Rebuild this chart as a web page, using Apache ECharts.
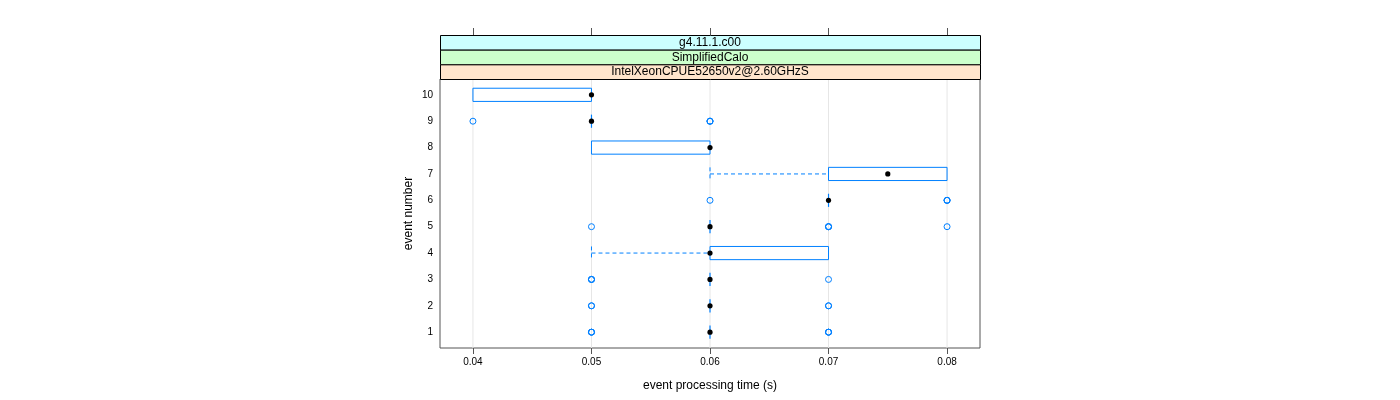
<!DOCTYPE html>
<html><head><meta charset="utf-8">
<script src="https://cdn.jsdelivr.net/npm/echarts@6/dist/echarts.min.js"></script>
<style>html,body{margin:0;padding:0;background:#fff}#c{width:1400px;height:400px}</style>
</head><body><div id="c"></div>
<script>
// ---- data ----
const events = [1, 2, 3, 4, 5, 6, 7, 8, 9, 10];
const xTicks = [0.04, 0.05, 0.06, 0.07, 0.08];
const boxMin    = [0.06, 0.06, 0.06, 0.05, 0.06, 0.07, 0.06,  0.05, 0.05, 0.04];
const boxQ1     = [0.06, 0.06, 0.06, 0.06, 0.06, 0.07, 0.07,  0.05, 0.05, 0.04];
const boxMedian = [0.06, 0.06, 0.06, 0.06, 0.06, 0.07, 0.075, 0.06, 0.05, 0.05];
const boxQ3     = [0.06, 0.06, 0.06, 0.07, 0.06, 0.07, 0.08,  0.06, 0.05, 0.05];
const boxMax    = [0.06, 0.06, 0.06, 0.07, 0.06, 0.07, 0.08,  0.06, 0.05, 0.05];
// outliers (repeated values = overlapping points)
const outlierEvent = [1, 1, 1, 1, 1, 1, 2, 2, 2, 2, 3, 3, 3, 3, 5, 5, 5, 5, 5, 6, 6, 6, 6, 9, 9, 9, 9];
const outlierTime  = [0.05, 0.05, 0.05, 0.07, 0.07, 0.07, 0.05, 0.05, 0.07, 0.07, 0.05, 0.05, 0.05, 0.07,
                      0.05, 0.07, 0.07, 0.07, 0.08, 0.06, 0.08, 0.08, 0.08, 0.04, 0.06, 0.06, 0.06];
const stripLabels = ['g4.11.1.c00', 'SimplifiedCalo', 'IntelXeonCPUE52650v2@2.60GHzS'];
const stripColors = ['#ccffff', '#ccffcc', '#ffe5cc'];
const xTitle = 'event processing time (s)';
const yTitle = 'event number';

// ---- chart ----
const FONT = '"Liberation Sans", Arial, Helvetica, sans-serif';
const BLUE = '#0080ff';
const X_MIN = 0.03722, X_MAX = 0.08278, Y_MIN = 0.4, Y_MAX = 10.6;
const G = {left: 440, right: 420, top: 79, bottom: 52};

const boxData = events.map((e, i) => [e, boxMin[i], boxQ1[i], boxMedian[i], boxQ3[i], boxMax[i]]);
const outlierData = outlierEvent.map((e, i) => [outlierTime[i], e]);

const chart = echarts.init(document.getElementById('c'), null, {renderer: 'canvas'});

const stripH = (G.top - 35) / 3;
const graphics = [];
stripLabels.forEach((t, i) => {
  graphics.push({
    type: 'rect', left: G.left, top: 35 + i * stripH, z: 10,
    shape: {x: 0, y: 0, width: 1400 - G.left - G.right, height: stripH},
    style: {fill: stripColors[i], stroke: '#000', lineWidth: 1}
  });
  graphics.push({
    type: 'text', z: 11,
    x: G.left + (1400 - G.left - G.right) / 2, y: 35 + i * stripH + stripH / 2 + 0.5,
    style: {text: t, fill: '#000', font: '12px ' + FONT, align: 'center', verticalAlign: 'middle'}
  });
});

const option = {
  animation: false,
  backgroundColor: '#fff',
  grid: {left: G.left, right: G.right, top: G.top, bottom: G.bottom, show: true,
         borderColor: '#555', borderWidth: 1, backgroundColor: 'transparent'},
  graphic: graphics,
  xAxis: [{
    type: 'value', min: X_MIN, max: X_MAX, position: 'bottom',
    axisLine: {show: false},
    splitLine: {show: false},
    axisTick: {show: true, length: 6, customValues: xTicks, lineStyle: {color: '#555'}},
    axisLabel: {customValues: xTicks, formatter: v => v.toFixed(2), fontSize: 10,
                fontFamily: FONT, color: '#000', margin: 9},
    name: xTitle, nameLocation: 'middle', nameGap: 32,
    nameTextStyle: {fontSize: 12, fontFamily: FONT, color: '#000'}
  }, {
    type: 'value', min: X_MIN, max: X_MAX, position: 'top', offset: G.top - 35,
    axisLine: {show: false}, splitLine: {show: false},
    axisTick: {show: true, length: 7, customValues: xTicks, lineStyle: {color: '#555'}},
    axisLabel: {show: false}
  }],
  yAxis: {
    type: 'value', min: Y_MIN, max: Y_MAX,
    axisLine: {show: false}, splitLine: {show: false},
    axisTick: {show: false},
    axisLabel: {customValues: events, fontSize: 10, fontFamily: FONT, color: '#000', margin: 7},
    name: yTitle, nameLocation: 'middle', nameGap: 25, nameRotate: 90,
    nameTextStyle: {fontSize: 12, fontFamily: FONT, color: '#000'}
  },
  series: [{
    type: 'custom', xAxisIndex: 0, yAxisIndex: 0, z: 1, silent: true,
    data: xTicks,
    renderItem: (params, api) => {
      const v = api.value(0);
      const p1 = api.coord([v, Y_MIN]), p2 = api.coord([v, Y_MAX]);
      return {type: 'line', shape: {x1: p1[0], y1: p1[1], x2: p2[0], y2: p2[1]},
              style: {stroke: '#e6e6e6', lineWidth: 1}};
    }
  }, {
    type: 'custom', xAxisIndex: 0, yAxisIndex: 0, z: 3, silent: true,
    data: boxData,
    renderItem: (params, api) => {
      const ev = api.value(0);
      const mn = api.value(1), q1 = api.value(2), md = api.value(3), q3 = api.value(4), mx = api.value(5);
      const y = api.coord([mn, ev])[1];
      const h = api.size([0, 0.5])[1] / 2;
      const xMin = api.coord([mn, ev])[0], xQ1 = api.coord([q1, ev])[0], xMd = api.coord([md, ev])[0];
      const xQ3 = api.coord([q3, ev])[0], xMax = api.coord([mx, ev])[0];
      const dash = {stroke: BLUE, lineWidth: 1, lineDash: [4, 3]};
      const children = [];
      if (xMin < xQ1) {
        children.push({type: 'line', shape: {x1: xMin, y1: y, x2: xQ1, y2: y}, style: dash});
        children.push({type: 'line', shape: {x1: xMin, y1: y - h, x2: xMin, y2: y + h}, style: dash});
      }
      if (xMax > xQ3) {
        children.push({type: 'line', shape: {x1: xQ3, y1: y, x2: xMax, y2: y}, style: dash});
        children.push({type: 'line', shape: {x1: xMax, y1: y - h, x2: xMax, y2: y + h}, style: dash});
      }
      if (xQ3 > xQ1) {
        children.push({type: 'rect', shape: {x: xQ1, y: y - h, width: xQ3 - xQ1, height: 2 * h},
                       style: {fill: 'none', stroke: BLUE, lineWidth: 1}});
      } else {
        children.push({type: 'line', shape: {x1: xQ1, y1: y - h, x2: xQ1, y2: y + h},
                       style: {stroke: BLUE, lineWidth: 1.2}});
      }
      children.push({type: 'circle', shape: {cx: xMd, cy: y, r: 2.6}, style: {fill: '#000'}});
      return {type: 'group', children};
    }
  }, {
    type: 'scatter', xAxisIndex: 0, yAxisIndex: 0, z: 2, silent: true,
    data: outlierData,
    symbol: 'circle', symbolSize: 6,
    itemStyle: {color: 'rgba(0,0,0,0)', borderColor: BLUE, borderWidth: 1, opacity: 1}
  }]
};
chart.setOption(option);
</script>
</body></html>
